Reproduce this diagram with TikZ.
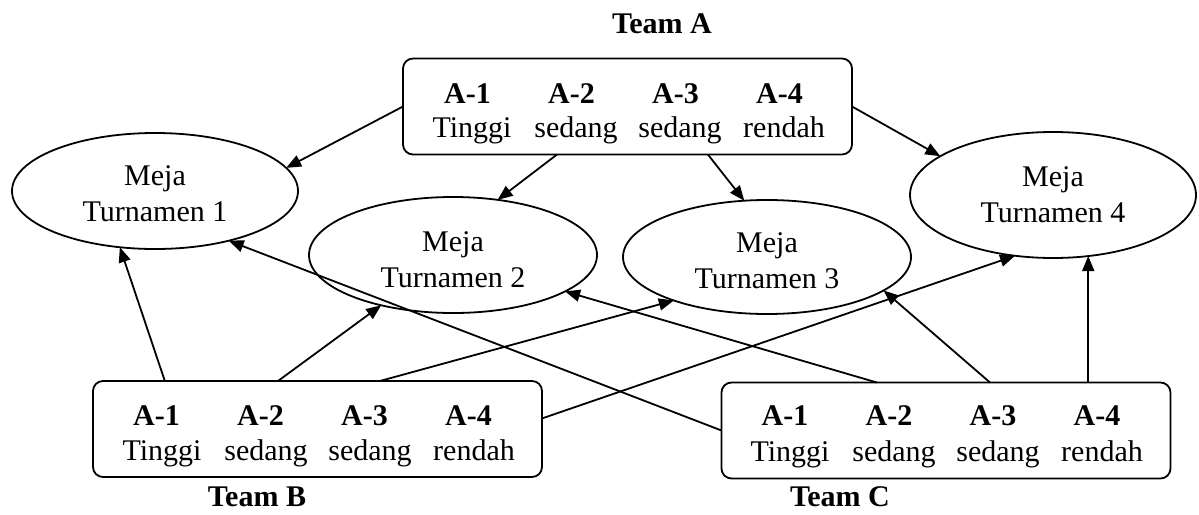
\documentclass[tikz,border=0pt]{standalone}
\usepackage{fontspec}
\setmainfont{Liberation Serif}
\usetikzlibrary{arrows.meta,shapes.geometric,calc}
\newcommand{\cellw}[1]{\makebox[104pt]{#1}}
\begin{document}
\begin{tikzpicture}[x=1pt,y=-1pt,
  every node/.style={font=\fontsize{30}{36}\selectfont, inner sep=0pt, outer sep=0pt},
  teambox/.style={draw, rounded corners=10pt, line width=1.8pt, minimum width=449pt, minimum height=96pt},
  meja/.style={draw, ellipse, line width=1.8pt},
  mejatext/.style={align=center},
  rowtext/.style={anchor=base},
  teamlabel/.style={anchor=base, font=\fontsize{30}{36}\selectfont\bfseries},
  link/.style={line width=1.8pt, -{Triangle[length=15pt,width=12pt]}}
]
\useasboundingbox (0,0) rectangle (1199,514);

% team boxes
\node[teambox] (A) at (627.5,106.5) {};
\node[teambox] (B) at (317.5,429) {};
\node[teambox] (C) at (946,430.5) {};

\node[rowtext] (A1) at (623.5,103) {\bfseries\cellw{A-1}\cellw{A-2}\cellw{A-3}\cellw{A-4}};
\node[rowtext] (A2) at (628,137) {\cellw{Tinggi}\cellw{sedang}\cellw{sedang}\cellw{rendah}};
\node[rowtext] (B1) at (312.5,425) {\bfseries\cellw{A-1}\cellw{A-2}\cellw{A-3}\cellw{A-4}};
\node[rowtext] (B2) at (318,460) {\cellw{Tinggi}\cellw{sedang}\cellw{sedang}\cellw{rendah}};
\node[rowtext] (C1) at (941,425) {\bfseries\cellw{A-1}\cellw{A-2}\cellw{A-3}\cellw{A-4}};
\node[rowtext] (C2) at (946,461) {\cellw{Tinggi}\cellw{sedang}\cellw{sedang}\cellw{rendah}};

% team labels
\node[teamlabel] (tA) at (662,33) {Team A};
\node[teamlabel] (tB) at (257,506.5) {Team B};
\node[teamlabel] (tC) at (840,506) {Team C};

% tables
\node[meja, minimum width=286pt, minimum height=116pt] (E1) at (155,191) {};
\node[meja, minimum width=288pt, minimum height=116pt] (E2) at (453,255) {};
\node[meja, minimum width=288pt, minimum height=114pt] (E3) at (767,257) {};
\node[meja, minimum width=286pt, minimum height=126pt] (E4) at (1053,195) {};
\node[mejatext] (E1t) at (155,194) {Meja\\Turnamen 1};
\node[mejatext] (E2t) at (453,260) {Meja\\Turnamen 2};
\node[mejatext] (E3t) at (767,261) {Meja\\Turnamen 3};
\node[mejatext] (E4t) at (1053,195) {Meja\\Turnamen 4};

% arrows from team A
\draw[link] (A.west) -- (E1.10.5);
\draw[link] ($(A.south west)!0.343!(A.south east)$) -- (E2.51);
\draw[link] ($(A.south west)!0.679!(A.south east)$) -- (E3.112.3);
\draw[link] (A.east) -- (E4.161.7);

% arrows from team B
\draw[link] ($(B.north west)!0.160!(B.north east)$) -- (E1.238.3);
\draw[link] ($(B.north west)!0.412!(B.north east)$) -- (E2.215.4);
\draw[link] ($(B.north west)!0.639!(B.north east)$) -- (E3.205.3);
\draw[link] ($(B.north east)!0.39!(B.south east)$) -- (E4.238);

% arrows from team C
\draw[link] (C.west) -- (E1.-34.7);
\draw[link] ($(C.north west)!0.346!(C.north east)$) -- (E2.-18.1);
\draw[link] ($(C.north west)!0.598!(C.north east)$) -- (E3.-16.9);
\draw[link] (E4.-60.2 |- C.north) -- (E4.-60.2);
\end{tikzpicture}
\end{document}
